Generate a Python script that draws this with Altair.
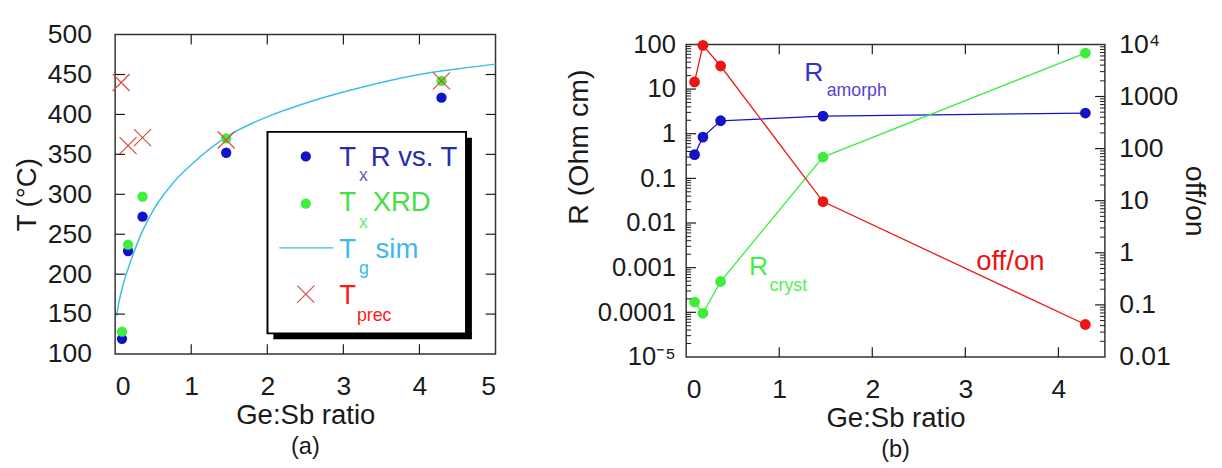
import altair as alt
import pandas as pd

FONT = "Liberation Sans"
INK = "#1a1a1a"

# ---------------- Panel (a) data ----------------
ratio_tx_r = [0.09, 0.17, 0.36, 1.46, 4.29]
temp_tx_r = [119, 229, 272, 352, 421]
ratio_tx_xrd = [0.09, 0.17, 0.36, 1.46, 4.29]
temp_tx_xrd = [128, 237, 297, 370, 442]
ratio_prec = [0.08, 0.17, 0.36, 1.46, 4.29]
temp_prec = [440, 361, 371, 368, 442]
ratio_tg = [0.02, 0.05, 0.1, 0.2, 0.35, 0.5, 0.75, 1.0, 1.5, 2.0, 2.5, 3.0, 3.5, 4.0, 4.5, 5.0]
temp_tg = [148, 165, 185, 215, 252, 280, 313, 337, 374, 397, 414, 428, 440, 450, 457, 463]
a_x_ticks = [0, 1, 2, 3, 4, 5]
a_y_ticks = [100, 150, 200, 250, 300, 350, 400, 450, 500]

# ---------------- Panel (b) data ----------------
ratio_b = [0.09, 0.18, 0.37, 1.47, 4.29]
r_amorph = [0.34, 0.84, 1.95, 2.47, 2.9]
r_cryst = [1.7e-4, 9.5e-5, 4.9e-4, 0.30, 64]
off_on = [1900, 9600, 3850, 9.6, 0.042]
b_x_ticks = [0, 1, 2, 3, 4]
b_left_ticks = [1e-5, 1e-4, 1e-3, 1e-2, 1e-1, 1, 10, 100]
b_left_labels = ["10⁻⁵", "0.0001", "0.001", "0.01", "0.1", "1", "10", "100"]
b_right_ticks = [0.01, 0.1, 1, 10, 100, 1000, 10000]
b_right_labels = ["0.01", "0.1", "1", "10", "100", "1000", "10⁴"]

W_A, H_A = 387, 325
W_B, H_B = 426, 318
dummy = pd.DataFrame({"k": [0]})


def txt(text, x, y, color, size, align="left", baseline="alphabetic"):
    return alt.Chart(dummy).mark_text(
        text=text, color=color, fontSize=size, font=FONT, align=align, baseline=baseline
    ).encode(x=alt.value(x), y=alt.value(y))


# ---------------- Panel (a) ----------------
xa = alt.Scale(domain=[0, 5], nice=False, zero=False)
ya = alt.Scale(domain=[100, 500], nice=False, zero=False)
ax_xa = alt.Axis(values=a_x_ticks, ticks=False, tickSize=0, domain=False, grid=False,
                 labelPadding=20, labelFontSize=27, labelFont=FONT, labelColor=INK,
                 title="Ge:Sb ratio", titleFontSize=28, titleFont=FONT, titleColor=INK,
                 titleFontWeight="normal", titlePadding=3, format="d")
ax_ya = alt.Axis(values=a_y_ticks, ticks=False, tickSize=0, domain=False, grid=False,
                 labelPadding=24, labelFontSize=27, labelFont=FONT, labelColor=INK,
                 title="T (°C)", titleFontSize=28, titleFont=FONT, titleColor=INK,
                 titleFontWeight="normal", titlePadding=6, format="d")

df_tg = pd.DataFrame({"x": ratio_tg, "y": temp_tg})
df_r = pd.DataFrame({"x": ratio_tx_r, "y": temp_tx_r})
df_xrd = pd.DataFrame({"x": ratio_tx_xrd, "y": temp_tx_xrd})
df_prec = pd.DataFrame({"x": ratio_prec, "y": temp_prec})

XA = alt.X("x:Q", scale=xa, axis=ax_xa)
YA = alt.Y("y:Q", scale=ya, axis=ax_ya)
XSHAPE = "M-1,-1L1,1M-1,1L1,-1"

tg_line = alt.Chart(df_tg).mark_line(color="#3dbfe0", strokeWidth=1.5, interpolate="monotone").encode(x=XA, y=YA)
pts_r = alt.Chart(df_r).mark_circle(color="#1212c8", size=110, opacity=1).encode(x=XA, y=YA)
pts_xrd = alt.Chart(df_xrd).mark_circle(color="#3cf03c", size=110, opacity=1).encode(x=XA, y=YA)
pts_prec = alt.Chart(df_prec).mark_point(shape=XSHAPE, size=300, filled=False,
                                         color="#e04848", strokeWidth=1.2, opacity=1).encode(x=XA, y=YA)

tick_ya = pd.DataFrame({"v": a_y_ticks[1:-1]})
tick_xa = pd.DataFrame({"v": a_x_ticks[1:-1]})
rule_kw = dict(color=INK, strokeWidth=1.2)
ta1 = alt.Chart(tick_ya).mark_rule(**rule_kw).encode(y=alt.Y("v:Q", scale=ya, axis=ax_ya), x=alt.value(0), x2=alt.value(10))
ta2 = alt.Chart(tick_ya).mark_rule(**rule_kw).encode(y=alt.Y("v:Q", scale=ya, axis=ax_ya), x=alt.value(W_A - 10), x2=alt.value(W_A))
ta3 = alt.Chart(tick_xa).mark_rule(**rule_kw).encode(x=alt.X("v:Q", scale=xa, axis=ax_xa), y=alt.value(H_A - 10), y2=alt.value(H_A))
ta4 = alt.Chart(tick_xa).mark_rule(**rule_kw).encode(x=alt.X("v:Q", scale=xa, axis=ax_xa), y=alt.value(0), y2=alt.value(10))

# legend box with shadow
LX0, LX1, LY0, LY1 = 155, 357, 99, 304
shadow = alt.Chart(dummy).mark_rect(color="black").encode(
    x=alt.value(LX0 + 6), x2=alt.value(LX1 + 6), y=alt.value(LY0 + 6), y2=alt.value(LY1 + 6))
box = alt.Chart(dummy).mark_rect(fill="white", stroke="black", strokeWidth=2).encode(
    x=alt.value(LX0), x2=alt.value(LX1), y=alt.value(LY0), y2=alt.value(LY1))
leg_r = alt.Chart(dummy).mark_circle(color="#1212c8", size=110, opacity=1).encode(x=alt.value(194), y=alt.value(124))
leg_xrd = alt.Chart(dummy).mark_circle(color="#3cf03c", size=110, opacity=1).encode(x=alt.value(194), y=alt.value(172))
leg_tg = alt.Chart(dummy).mark_rule(color="#3dbfe0", strokeWidth=1.5).encode(x=alt.value(167), x2=alt.value(222), y=alt.value(217))
leg_prec = alt.Chart(dummy).mark_point(shape=XSHAPE, size=300, filled=False, color="#e04848",
                                        strokeWidth=1.2, opacity=1).encode(x=alt.value(194), y=alt.value(264))
legend_txt = [
    txt("T", 228, 134, "#2b2bb0", 28), txt("x", 248, 149, "#6a5acd", 18), txt("R vs. T", 260, 134, "#2b2bb0", 28),
    txt("T", 228, 180, "#44e044", 28), txt("x", 248, 197, "#66ee66", 18), txt("XRD", 262, 180, "#44e044", 28),
    txt("T", 228, 227, "#40b8e8", 28), txt("g", 248, 244, "#40b8e8", 18), txt("sim", 265, 227, "#40b8e8", 28),
    txt("T", 228, 274, "#ff1a1a", 28), txt("prec", 246, 291, "#ff1a1a", 18),
]

panel_a = alt.layer(
    tg_line, pts_r, pts_xrd, pts_prec, ta1, ta2, ta3, ta4,
    shadow, box, leg_r, leg_xrd, leg_tg, leg_prec, *legend_txt
).properties(
    width=W_A, height=H_A,
    title=alt.TitleParams("(a)", orient="bottom", anchor="middle", fontSize=24, font=FONT,
                          fontWeight="normal", color=INK, offset=6)
)

# ---------------- Panel (b) ----------------
xb = alt.Scale(domain=[0, 4.5], nice=False, zero=False)
yl = alt.Scale(type="log", domain=[1e-5, 100], nice=False)
yr = alt.Scale(type="log", domain=[0.01, 10000], nice=False)
left_expr = "[" + ",".join("'%s'" % s for s in b_left_labels) + "][round(log(datum.value)/LN10)+5]"
right_expr = "[" + ",".join("'%s'" % s for s in b_right_labels) + "][round(log(datum.value)/LN10)+2]"

ax_xb = alt.Axis(values=b_x_ticks, ticks=False, tickSize=0, domain=False, grid=False,
                 labelPadding=20, labelFontSize=27, labelFont=FONT, labelColor=INK,
                 title="Ge:Sb ratio", titleFontSize=28, titleFont=FONT, titleColor=INK,
                 titleFontWeight="normal", titlePadding=3, format="d")
ax_yl = alt.Axis(values=b_left_ticks, labelExpr=left_expr, ticks=False, tickSize=0, domain=False,
                 grid=False, labelPadding=11, labelFontSize=26, labelFont=FONT, labelColor=INK,
                 title="R (Ohm cm)", titleFontSize=29, titleFont=FONT, titleColor=INK,
                 titleFontWeight="normal", titlePadding=4, titleY=104)
ax_yr = alt.Axis(orient="right", values=b_right_ticks, labelExpr=right_expr, ticks=False, tickSize=0,
                 domain=False, grid=False, labelPadding=14, labelFontSize=27, labelFont=FONT,
                 labelColor=INK, title="off/on", titleFontSize=29, titleFont=FONT, titleColor=INK,
                 titleFontWeight="normal", titlePadding=2, titleAngle=90)

XB = alt.X("x:Q", scale=xb, axis=ax_xb)
df_am = pd.DataFrame({"x": ratio_b, "y": r_amorph})
df_cr = pd.DataFrame({"x": ratio_b, "y": r_cryst})
df_oo = pd.DataFrame({"x": ratio_b, "y": off_on})
YL = alt.Y("y:Q", scale=yl, axis=ax_yl)
YR = alt.Y("y:Q", scale=yr, axis=ax_yr)

BLUE, GREEN, RED = "#1414c4", "#3aee3a", "#ee1414"
am_line = alt.Chart(df_am).mark_line(color=BLUE, strokeWidth=1.3).encode(x=XB, y=YL)
am_pts = alt.Chart(df_am).mark_circle(color=BLUE, size=120, opacity=1).encode(x=XB, y=YL)
cr_line = alt.Chart(df_cr).mark_line(color=GREEN, strokeWidth=1.3).encode(x=XB, y=YL)
cr_pts = alt.Chart(df_cr).mark_circle(color=GREEN, size=120, opacity=1).encode(x=XB, y=YL)
oo_line = alt.Chart(df_oo).mark_line(color=RED, strokeWidth=1.3).encode(x=XB, y=YR)
oo_pts = alt.Chart(df_oo).mark_circle(color=RED, size=120, opacity=1).encode(x=XB, y=YR)

minor_l = [k * 10.0 ** d for d in range(-5, 2) for k in range(2, 10)]
minor_r = [k * 10.0 ** d for d in range(-2, 4) for k in range(2, 10)]
df_ml = pd.DataFrame({"v": b_left_ticks[1:-1]})
df_nl = pd.DataFrame({"v": minor_l})
df_mr = pd.DataFrame({"v": b_right_ticks[1:-1]})
df_nr = pd.DataFrame({"v": minor_r})
df_xb = pd.DataFrame({"v": b_x_ticks[1:]})
XBV = alt.X("v:Q", scale=xb, axis=ax_xb)
YLV = alt.Y("v:Q", scale=yl, axis=ax_yl)
YRV = alt.Y("v:Q", scale=yr, axis=ax_yr)

tl1 = alt.Chart(df_ml).mark_rule(**rule_kw).encode(y=YLV, x=alt.value(0), x2=alt.value(10))
tl2 = alt.Chart(df_nl).mark_rule(color=INK, strokeWidth=1).encode(y=YLV, x=alt.value(0), x2=alt.value(5))
tr1 = alt.Chart(df_mr).mark_rule(**rule_kw).encode(y=YRV, x=alt.value(W_B - 10), x2=alt.value(W_B))
tr2 = alt.Chart(df_nr).mark_rule(color=INK, strokeWidth=1).encode(y=YRV, x=alt.value(W_B - 5), x2=alt.value(W_B))
tb1 = alt.Chart(df_xb).mark_rule(**rule_kw).encode(x=XBV, y=alt.value(H_B - 10), y2=alt.value(H_B))
tb2 = alt.Chart(df_xb).mark_rule(**rule_kw).encode(x=XBV, y=alt.value(0), y2=alt.value(10))

left_group = alt.layer(am_line, cr_line, am_pts, cr_pts, tl1, tl2, tb1, tb2,
                       txt("R", 120, 37, "#3333cc", 27), txt("amorph", 143, 53, "#5544cc", 18),
                       txt("R", 64, 235, "#44ee44", 27), txt("cryst", 85, 251, "#55ee55", 18))
right_group = alt.layer(oo_line, oo_pts, tr1, tr2,
                        txt("off/on", 295, 230, "#ee1111", 28))

panel_b = alt.layer(left_group, right_group).resolve_scale(y="independent").properties(
    width=W_B, height=H_B,
    title=alt.TitleParams("(b)", orient="bottom", anchor="middle", fontSize=24, font=FONT,
                          fontWeight="normal", color=INK, offset=6)
)

# small invisible spacer to drop panel (b) a few pixels below panel (a)
blank = alt.Chart(dummy).mark_point(opacity=0, size=1).encode(
    x=alt.value(0), y=alt.value(0)
).properties(width=W_B, height=1, view=alt.ViewBackground(stroke="transparent"))

right_col = alt.vconcat(blank, panel_b, spacing=-7)

chart = alt.hconcat(panel_a, right_col, spacing=65).properties(
    padding={"left": 5, "top": 8, "right": 5, "bottom": 5},
    background="white",
).configure_view(stroke="#333333", strokeWidth=1.5)

chart.save("out.html", embed_options={"renderer": "svg", "actions": False})
